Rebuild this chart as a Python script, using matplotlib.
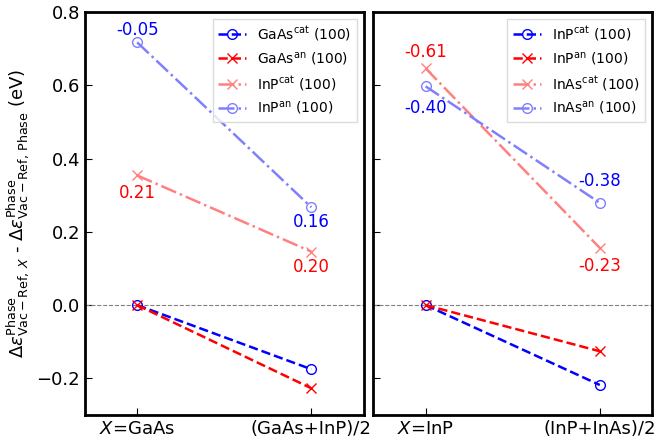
import matplotlib
matplotlib.use("Agg")
import matplotlib.pyplot as plt

# x positions: reference point X and the average
xpos = [0, 1]

left_ticks = ['$X$=GaAs', '(GaAs+InP)/2']
right_ticks = ['$X$=InP', '(InP+InAs)/2']

# left panel (X = GaAs)
gaas_cat = [0.0, -0.175]
gaas_an = [0.0, -0.227]
inp_cat_l = [0.354, 0.146]
inp_an_l = [0.717, 0.267]
left_labels = [r'GaAs$^{\rm cat}$ (100)', r'GaAs$^{\rm an}$ (100)',
               r'InP$^{\rm cat}$ (100)', r'InP$^{\rm an}$ (100)']
left_notes = [('-0.05', 0, 0.717, 'b'), ('0.21', 0, 0.354, 'r'),
              ('0.16', 1, 0.267, 'b'), ('0.20', 1, 0.146, 'r')]
left_offs = [0.034, -0.047, -0.039, -0.041]

# right panel (X = InP)
inp_cat = [0.0, -0.218]
inp_an = [0.0, -0.126]
inas_cat = [0.646, 0.156]
inas_an = [0.597, 0.279]
right_labels = [r'InP$^{\rm cat}$ (100)', r'InP$^{\rm an}$ (100)',
                r'InAs$^{\rm cat}$ (100)', r'InAs$^{\rm an}$ (100)']
right_notes = [('-0.61', 0, 0.646, 'r'), ('-0.40', 0, 0.597, 'b'),
               ('-0.38', 1, 0.279, 'b'), ('-0.23', 1, 0.156, 'r')]
right_offs = [0.044, -0.059, 0.060, -0.049]

styles = [dict(color='b', ls='--', marker='o', mfc='none'),
          dict(color='r', ls='--', marker='x'),
          dict(color='#ff8080', ls='-.', marker='x'),
          dict(color='#8080ff', ls='-.', marker='o', mfc='none')]

fig, axes = plt.subplots(1, 2, figsize=(6.58, 4.42), dpi=100, sharey=True)
fig.subplots_adjust(left=0.129, right=0.991, top=0.973, bottom=0.061, wspace=0.035)

panels = [(axes[0], [gaas_cat, gaas_an, inp_cat_l, inp_an_l], left_labels, left_ticks, left_notes, left_offs),
          (axes[1], [inp_cat, inp_an, inas_cat, inas_an], right_labels, right_ticks, right_notes, right_offs)]

for ax, series, labels, ticks, notes, offs in panels:
    ax.axhline(0, color='gray', ls='--', lw=0.8)
    for ys, lab, st in zip(series, labels, styles):
        ax.plot(xpos, ys, label=lab, lw=1.8, ms=7, mew=1.0, **st)
    for (txt, xi, yv, c), off in zip(notes, offs):
        ax.text(xpos[xi], yv + off, txt, color=c, fontsize=12,
                ha='center', va='center')
    ax.set_xlim(-0.3, 1.3)
    ax.set_ylim(-0.3, 0.8)
    ax.set_xticks(xpos)
    ax.set_xticklabels(ticks, fontsize=13)
    ax.tick_params(direction='in', labelsize=13, length=5)
    for sp in ax.spines.values():
        sp.set_linewidth(2)
    leg = ax.legend(loc='upper right', fontsize=10, handlelength=2.0,
                    fancybox=False, borderaxespad=0.5)
    leg.get_frame().set_edgecolor('lightgray')

axes[0].set_yticks([-0.2, 0.0, 0.2, 0.4, 0.6, 0.8])
axes[0].set_ylabel(r'$\Delta\varepsilon^{\rm Phase}_{\rm Vac-Ref,\,\mathit{X}}$ - '
                   r'$\Delta\varepsilon^{\rm Phase}_{\rm Vac-Ref,\,Phase}$ (eV)', fontsize=13)

fig.savefig('out.png')
